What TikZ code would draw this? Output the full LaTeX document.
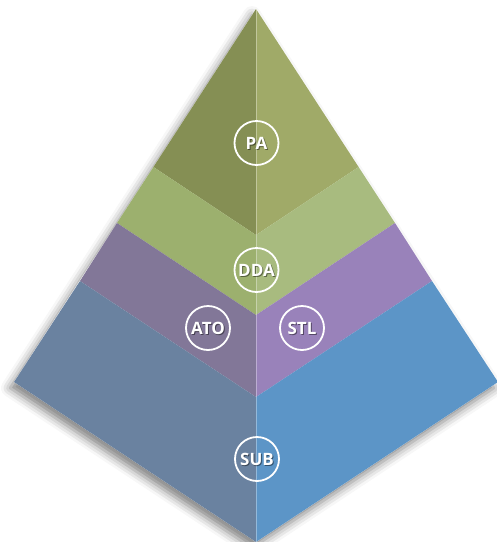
\documentclass[tikz,border=0pt]{standalone}
\usepackage{fontspec}
\setmainfont{Open Sans}
\usetikzlibrary{shadows.blur}
\definecolor{paL}{RGB}{133,143,84}
\definecolor{paR}{RGB}{160,170,104}
\definecolor{ddaL}{RGB}{156,176,110}
\definecolor{ddaR}{RGB}{168,187,127}
\definecolor{puL}{RGB}{130,119,152}
\definecolor{puR}{RGB}{153,130,186}
\definecolor{blL}{RGB}{106,130,160}
\definecolor{blR}{RGB}{92,149,199}
\begin{document}
\begin{tikzpicture}[x=1pt,y=-1pt,
  ring/.style={circle,draw=white,line width=1.8pt,minimum size=44pt,inner sep=0pt,
    text=white,font=\fontsize{17}{17}\selectfont\bfseries},
  txtshadow/.style={text=black,text opacity=0.45,inner sep=0pt,
    font=\fontsize{17}{17}\selectfont\bfseries},
  centerline/.style={draw=white,draw opacity=0.35,line width=0.8pt}]
\useasboundingbox (0,0) rectangle (497,542);
\coordinate (A) at (256,9);
\coordinate (L1) at (153.4,167);
\coordinate (L2) at (117,223);
\coordinate (L3) at (80,281);
\coordinate (L4) at (14,382);
\coordinate (R1) at (358.6,167);
\coordinate (R2) at (395,223);
\coordinate (R3) at (432,281);
\coordinate (R4) at (498,382);
\coordinate (C1) at (256,235);
\coordinate (C2) at (256,315);
\coordinate (C3) at (256,397);
\coordinate (C4) at (256,542);
% outer shape with soft shadow
\fill[white,blur shadow={shadow xshift=-4pt,shadow yshift=-6pt,shadow blur radius=9pt,shadow opacity=50}]
  (A) -- (L4) -- (C4) -- (R4) -- cycle;
% bands
\fill[paL] (A) -- (L1) -- (C1) -- cycle;
\fill[paR] (A) -- (R1) -- (C1) -- cycle;
\fill[ddaL] (L1) -- (L2) -- (C2) -- (C1) -- cycle;
\fill[ddaR] (R1) -- (R2) -- (C2) -- (C1) -- cycle;
\fill[puL] (L2) -- (L3) -- (C3) -- (C2) -- cycle;
\fill[puR] (R2) -- (R3) -- (C3) -- (C2) -- cycle;
\fill[blL] (L3) -- (L4) -- (C4) -- (C3) -- cycle;
\fill[blR] (R3) -- (R4) -- (C4) -- (C3) -- cycle;
\draw[centerline] (A) -- (C4);
% labels
\node[txtshadow] (pa-s) at (257.5,144.5) {PA};
\node[ring] (pa) at (256.5,143) {PA};
\node[txtshadow] (dda-s) at (257.5,271.5) {DDA};
\node[ring] (dda) at (256.5,270) {DDA};
\node[txtshadow] (ato-s) at (209,329.5) {ATO};
\node[ring] (ato) at (208,328) {ATO};
\node[txtshadow] (stl-s) at (303,329.5) {STL};
\node[ring] (stl) at (302,328) {STL};
\node[txtshadow] (sub-s) at (258,460.5) {SUB};
\node[ring] (sub) at (257,459) {SUB};
\end{tikzpicture}
\end{document}
